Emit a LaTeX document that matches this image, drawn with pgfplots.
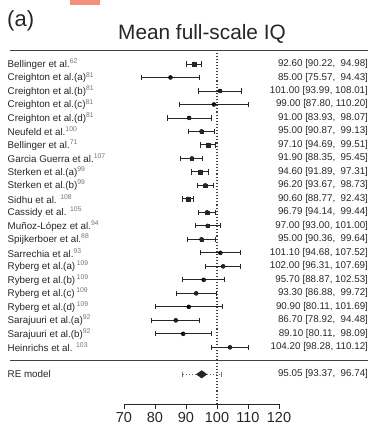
\documentclass[border=0pt]{standalone}
\usepackage{fontspec}
\setmainfont{Liberation Sans}
\usepackage{pgfplots}
\pgfplotsset{compat=1.18}
\usepackage{pgfplotstable}
\definecolor{txt}{HTML}{262626}
\definecolor{salmon}{HTML}{F4907A}
\newcommand{\sr}[1]{\textsuperscript{\textcolor{black!55}{#1}}}

\pgfplotstableread{
row est lo hi s
-1 92.60 90.22 94.98 1.87
-2 85.00 75.57 94.43 0.37
-3 101.00 93.99 108.01 0.72
-4 99.00 87.80 110.20 0.20
-5 91.00 83.93 98.07 0.70
-6 95.00 90.87 99.13 1.38
-7 97.10 94.69 99.51 1.86
-8 91.90 88.35 95.45 1.54
-9 94.60 91.89 97.31 1.78
-10 96.20 93.67 98.73 1.83
-11 90.60 88.77 92.43 2.00
-12 96.79 94.14 99.44 1.79
-13 97.00 93.00 101.00 1.42
-14 95.00 90.36 99.64 1.24
-15 101.10 94.68 107.52 0.83
-16 102.00 96.31 107.69 0.99
-17 95.70 88.87 102.53 0.75
-18 93.30 86.88 99.72 0.83
-19 90.90 80.11 101.69 0.23
-20 86.70 78.92 94.48 0.59
-21 89.10 80.11 98.09 0.42
-22 104.20 98.28 110.12 0.93
}\data

\begin{document}
\begin{tikzpicture}[x=1pt,y=1pt]
\useasboundingbox (0,0) rectangle (378,427);
\fill[salmon] (70,422) rectangle (100,427);
\node[anchor=base west, font=\fontsize{22}{24}\selectfont, text=txt, inner sep=0pt] at (7,400) {(a)};
\node[anchor=base, font=\fontsize{20.8}{24}\selectfont, text=txt, inner sep=0pt] at (202,387) {Mean full-scale IQ};

\begin{axis}[at={(124pt,23pt)}, anchor=south west, scale only axis,
  width=155pt, height=353.5pt,
  xmin=70, xmax=120, ymin=-26.2, ymax=0, clip=false,
  axis x line=bottom, axis y line=left,
  axis line style={-, txt, line width=0.9pt},
  y axis line style={draw=none}, ytick style={draw=none},
  xtick={70,80,90,100,110,120}, minor xtick={}, xtick align=outside,
  major tick length=5pt, xtick style={txt, line width=0.9pt},
  xticklabel style={font=\fontsize{14.5}{16}\selectfont, text=txt},
  /pgf/number format/assume math mode=true,
  ytick={-1,-2,-3,-4,-5,-6,-7,-8,-9,-10,-11,-12,-13,-14,-15,-16,-17,-18,-19,-20,-21,-22,-24},
  yticklabels={
    {Bellinger et al.\sr{62}},
    {Creighton et al.(a)\sr{81}},
    {Creighton et al.(b)\sr{81}},
    {Creighton et al.(c)\sr{81}},
    {Creighton et al.(d)\sr{81}},
    {Neufeld et al.\sr{100}},
    {Bellinger et al.\sr{71}},
    {Garcia Guerra et al.\sr{107}},
    {Sterken et al.(a)\sr{99}},
    {Sterken et al.(b)\sr{99}},
    {Sidhu et al. \sr{108}},
    {Cassidy et al. \sr{105}},
    {Muñoz-López et al.\sr{94}},
    {Spijkerboer et al.\sr{88}},
    {Sarrechia et al.\sr{93}},
    {Ryberg et al.(a)\,\sr{109}},
    {Ryberg et al.(b)\,\sr{109}},
    {Ryberg et al.(c)\,\sr{109}},
    {Ryberg et al.(d)\,\sr{109}},
    {Sarajuuri et al.(a)\sr{92}},
    {Sarajuuri et al.(b)\sr{92}},
    {Heinrichs et al. \sr{103}},
    {RE model}},
  yticklabel style={anchor=west, xshift=-114pt, inner sep=0pt, font=\fontsize{9.8}{11}\selectfont, text=txt},
]
% separator lines
\draw[line width=1.3pt, black!75] (axis cs:33.2,0) -- (axis cs:148.7,0);
\draw[line width=1.3pt, black!75] (axis cs:33.2,-23) -- (axis cs:148.7,-23);
% reference line
\addplot[black!75, dotted, line width=1.1pt] coordinates {(100,-0.15) (100,-26.2)};
% CIs
\addplot[only marks, mark=none, error bars/.cd, x dir=both, x explicit,
  error bar style={draw=txt, line width=0.9pt},
  error mark options={draw=txt, mark size=2.6pt, line width=0.9pt, rotate=90}]
  table[x=est, y=row, x error plus expr=\thisrow{hi}-\thisrow{est}, x error minus expr=\thisrow{est}-\thisrow{lo}] {\data};
% squares
\addplot[scatter, only marks, mark=square*, txt, mark options={line width=0.1pt},
  scatter/use mapped color={draw=txt, fill=txt},
  visualization depends on={\thisrow{s} \as \perpointmarksize},
  scatter/@pre marker code/.append style={/tikz/mark size=\perpointmarksize}]
  table[x=est, y=row] {\data};
% prediction interval
\addplot[black!55, dotted, line width=1pt] coordinates {(88.9,-24) (101.3,-24)};
\addplot[black!55, line width=0.7pt] coordinates {(88.9,-23.8) (88.9,-24.2)};
\addplot[black!55, line width=0.7pt] coordinates {(101.3,-23.8) (101.3,-24.2)};
% summary diamond
\addplot[fill=txt, draw=txt] coordinates {(93.37,-24) (95.05,-23.72) (96.74,-24) (95.05,-24.28)} -- cycle;
\end{axis}

\begin{axis}[at={(124pt,23pt)}, anchor=south west, scale only axis,
  width=155pt, height=353.5pt,
  xmin=70, xmax=120, ymin=-26.2, ymax=0,
  hide x axis, axis y line=right,
  y axis line style={draw=none}, ytick style={draw=none},
  ytick={-1,-2,-3,-4,-5,-6,-7,-8,-9,-10,-11,-12,-13,-14,-15,-16,-17,-18,-19,-20,-21,-22,-24},
  yticklabels={
    {92.60 [90.22,\ \ 94.98]},
    {85.00 [75.57,\ \ 94.43]},
    {101.00 [93.99, 108.01]},
    {99.00 [87.80, 110.20]},
    {91.00 [83.93,\ \ 98.07]},
    {95.00 [90.87,\ \ 99.13]},
    {97.10 [94.69,\ \ 99.51]},
    {91.90 [88.35,\ \ 95.45]},
    {94.60 [91.89,\ \ 97.31]},
    {96.20 [93.67,\ \ 98.73]},
    {90.60 [88.77,\ \ 92.43]},
    {96.79 [94.14,\ \ 99.44]},
    {97.00 [93.00, 101.00]},
    {95.00 [90.36,\ \ 99.64]},
    {101.10 [94.68, 107.52]},
    {102.00 [96.31, 107.69]},
    {95.70 [88.87, 102.53]},
    {93.30 [86.88,\ \ 99.72]},
    {90.90 [80.11, 101.69]},
    {86.70 [78.92,\ \ 94.48]},
    {89.10 [80.11,\ \ 98.09]},
    {104.20 [98.28, 110.12]},
    {95.05 [93.37,\ \ 96.74]}},
  yticklabel style={anchor=east, xshift=87pt, inner sep=0pt, font=\fontsize{9.8}{11}\selectfont, text=txt},
]
\addplot[draw=none] coordinates {(70,-1)};
\end{axis}
\end{tikzpicture}
\end{document}
